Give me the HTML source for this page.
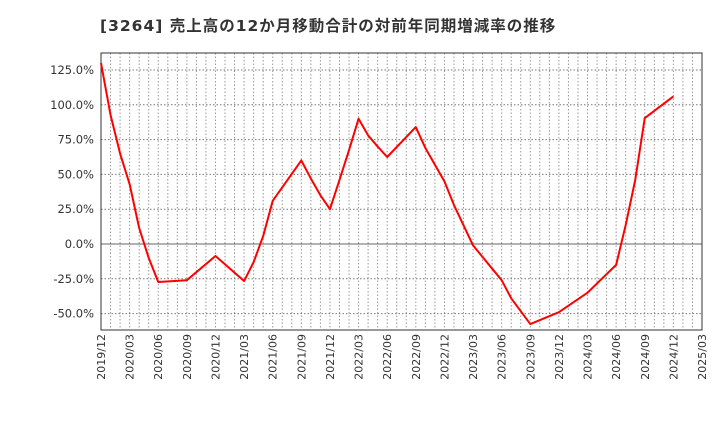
<!DOCTYPE html>
<html><head><meta charset="utf-8"><style>
body{margin:0;background:#fff;}
svg text{font-family:"DejaVu Sans","Noto Sans CJK JP",sans-serif;}
</style></head><body>
<svg id="chart" width="720" height="440" xmlns="http://www.w3.org/2000/svg">
<text x="100" y="31" font-size="15.5" font-weight="bold" letter-spacing="1" fill="#333">[3264]  売上高の12か月移動合計の対前年同期増減率の推移</text>
<g id="grid"></g><g id="axes"></g><g id="series"></g>
</svg>
<script>
const monthIdx=[0,1,2,3,4,5,6,9,12,15,16,17,18,21,22,23,24,25,26,27,28,29,30,33,34,36,37,39,42,43,45,48,51,54,55,56,57,60];
const values=[130,92.7,65,43,11.5,-10,-27.3,-26,-8.6,-26.6,-13,5.7,31,60,47,35,25,46,67.5,90,78,70,62.5,84,69,45,28,-1,-26,-39,-57.5,-49,-35,-15,13.6,46,90.5,106];
const yTicks=[125,100,75,50,25,0,-25,-50];
const xLabels=["2019/12","2020/03","2020/06","2020/09","2020/12","2021/03","2021/06","2021/09","2021/12","2022/03","2022/06","2022/09","2022/12","2023/03","2023/06","2023/09","2023/12","2024/03","2024/06","2024/09","2024/12","2025/03"];
const L=101,R=702,T=53,B=330,NM=63;
const xs=m=>L+m*(R-L)/NM;
const ys=v=>244-v*34.8/25;
const ns="http://www.w3.org/2000/svg";
function mk(tag,attrs,parent){const e=document.createElementNS(ns,tag);for(const k in attrs)e.setAttribute(k,attrs[k]);parent.appendChild(e);return e;}
const grid=document.getElementById('grid'),axes=document.getElementById('axes'),series=document.getElementById('series');
for(let m=1;m<NM;m++){const l=mk('line',{x1:xs(m),x2:xs(m),y1:T,y2:B,stroke:'#999','stroke-dasharray':'1.5,2','stroke-width':1},grid);

}
yTicks.forEach(v=>{const y=ys(v);const l=mk('line',{x1:L,x2:R,y1:y,y2:y,stroke:v===0?'#666':'#777','stroke-dasharray':v===0?'none':'1.5,2','stroke-width':1},grid);


const t=mk('text',{x:L-7,y:y+4,'text-anchor':'end','font-size':11.5,fill:'#333'},axes);t.textContent=v.toFixed(1)+'%';

});
xLabels.forEach((s,i)=>{const x=xs(i*3);const t=mk('text',{transform:`translate(${x+4},${B+4}) rotate(-90)`,'text-anchor':'end','font-size':11,fill:'#333'},axes);t.textContent=s;

});
const f=mk('rect',{x:L,y:T,width:R-L,height:B-T,fill:'none',stroke:'#333','stroke-width':1},axes);


const p=mk('polyline',{points:monthIdx.map((m,i)=>xs(m)+','+ys(values[i])).join(' '),fill:'none',stroke:'#f00','stroke-width':2,'stroke-linejoin':'round'},series);


</script>
</body></html>
